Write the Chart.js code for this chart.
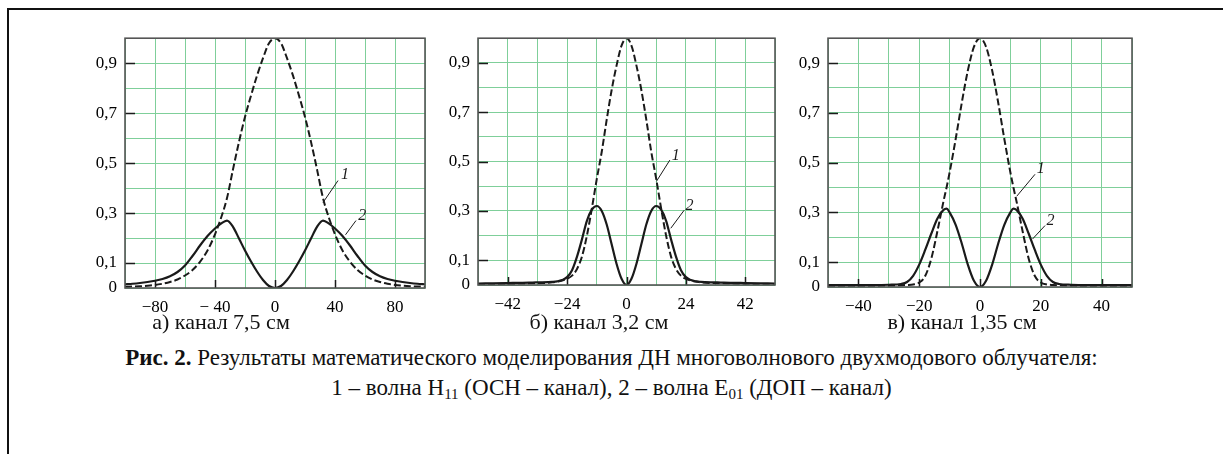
<!DOCTYPE html>
<html>
<head>
<meta charset="utf-8">
<script src="https://cdn.jsdelivr.net/npm/chart.js@4.4.1/dist/chart.umd.min.js"></script>
<style>
  html, body { margin:0; padding:0; background:#fff; width:1223px; height:454px; overflow:hidden; }
  body { position:relative; font-family:"Liberation Serif","Times New Roman",serif; color:#111; }
  .frame { position:absolute; left:7px; top:8px; width:1400px; height:700px; border-top:2px solid #111; border-left:2px solid #111; }
  .panel { position:absolute; top:20px; }
  .sub { position:absolute; top:309px; font-size:22px; line-height:26px; white-space:nowrap; transform:translateX(-50%); }
  .cap { position:absolute; left:0; width:1223px; text-align:center; font-size:23px; line-height:26px; white-space:nowrap; }
  sub { font-size:15px; vertical-align:-4px; line-height:0; }
</style>
</head>
<body>
<div class="frame"></div>
<canvas id="c1" class="panel" style="left:60px" width="380" height="300"></canvas>
<canvas id="c2" class="panel" style="left:413px" width="380" height="300"></canvas>
<canvas id="c3" class="panel" style="left:763px" width="390" height="300"></canvas>

<div class="sub" style="left:221px">а) канал 7,5 см</div>
<div class="sub" style="left:599px">б) канал 3,2 см</div>
<div class="sub" style="left:962px">в) канал 1,35 см</div>
<div class="cap" style="top:345px"><b>Рис. 2.</b> Результаты математического моделирования ДН многоволнового двухмодового облучателя:</div>
<div class="cap" style="top:375px">1 – волна H<sub>11</sub> (ОСН – канал), 2 – волна E<sub>01</sub> (ДОП – канал)</div>

<script>
// ---- data (angle, normalized amplitude) ----
// a) канал 7,5 см
const angleA = [-100,-95,-90,-85,-80,-75,-70,-65,-60,-55,-50,-45,-40,-36,-32,-28,-24,-20,-16,-12,-8,-4,0,
                4,8,12,16,20,24,28,32,36,40,45,50,55,60,65,70,75,80,85,90,95,100];
const h11A = [0.005,0.006,0.007,0.009,0.012,0.017,0.024,0.034,0.05,0.072,0.105,0.15,0.215,0.28,0.36,0.475,0.585,0.685,0.77,0.85,0.92,0.98,1.0,
              0.98,0.92,0.85,0.77,0.685,0.585,0.475,0.36,0.28,0.215,0.15,0.105,0.072,0.05,0.034,0.024,0.017,0.012,0.009,0.007,0.006,0.005];
const e01A = [0.015,0.017,0.02,0.024,0.029,0.036,0.047,0.064,0.09,0.128,0.17,0.208,0.238,0.258,0.27,0.245,0.198,0.15,0.106,0.066,0.032,0.008,0,
              0.008,0.032,0.066,0.106,0.15,0.198,0.245,0.27,0.258,0.238,0.208,0.17,0.128,0.09,0.064,0.047,0.036,0.029,0.024,0.02,0.017,0.015];

// б) канал 3,2 см
const angleB = [-60,-54,-48,-42,-38,-34,-30,-28,-26,-24,-22,-20,-18,-16,-14,-12,-10,-8,-6,-4,-2,0,
                2,4,6,8,10,12,14,16,18,20,22,24,26,28,30,34,38,42,48,54,60];
const h11B = [0.004,0.004,0.005,0.006,0.007,0.008,0.011,0.014,0.018,0.025,0.038,0.065,0.115,0.2,0.31,0.43,0.54,0.67,0.79,0.89,0.97,1.0,
              0.97,0.89,0.79,0.67,0.54,0.43,0.31,0.2,0.115,0.065,0.038,0.025,0.018,0.014,0.011,0.008,0.007,0.006,0.005,0.004,0.004];
const e01B = [0.006,0.007,0.008,0.009,0.01,0.011,0.013,0.015,0.02,0.032,0.06,0.115,0.185,0.26,0.305,0.32,0.3,0.245,0.165,0.085,0.025,0,
              0.025,0.085,0.165,0.245,0.3,0.32,0.305,0.26,0.185,0.115,0.06,0.032,0.02,0.015,0.013,0.011,0.01,0.009,0.008,0.007,0.006];

// в) канал 1,35 см
const angleC = [-50,-45,-40,-35,-30,-26,-24,-22,-20,-18,-16,-14,-12,-11,-10,-8,-6,-4,-2,0,
                2,4,6,8,10,11,12,14,16,18,20,22,24,26,30,35,40,45,50];
const h11C = [0.005,0.005,0.005,0.005,0.006,0.007,0.008,0.01,0.018,0.045,0.115,0.225,0.345,0.4,0.46,0.595,0.74,0.87,0.965,1.0,
              0.965,0.87,0.74,0.595,0.46,0.4,0.345,0.225,0.115,0.045,0.018,0.01,0.008,0.007,0.006,0.005,0.005,0.005,0.005];
const e01C = [0.008,0.008,0.008,0.008,0.009,0.012,0.02,0.045,0.09,0.15,0.215,0.275,0.31,0.315,0.3,0.25,0.175,0.09,0.025,0,
              0.025,0.09,0.175,0.25,0.3,0.315,0.31,0.275,0.215,0.15,0.09,0.045,0.02,0.012,0.009,0.008,0.008,0.008,0.008];

// tick labels (panel б carries the printed labels of the original)
const xTicksA = [-80,-40,0,40,80],  xTextA = ['−80','− 40','0','40','80'];
const xTicksB = [-48,-24,0,24,48],  xTextB = ['−42','−24','0','24','42'];
const xTicksC = [-40,-20,0,20,40],  xTextC = ['−40','−20','0','20','40'];
const yTicks = [0.1,0.3,0.5,0.7,0.9];

const GRID = '#7fcf9a';
const INK = '#1a1a1a';
const TICK_FONT = {family: '"Liberation Serif", serif', size: 17};

const marks = {
  id: 'marks',
  afterDatasetsDraw(chart, args, o) {
    const {ctx, chartArea: a, scales: {x, y}} = chart;
    ctx.save();
    ctx.strokeStyle = INK; ctx.lineWidth = 1.5;
    ctx.beginPath();
    yTicks.forEach(v => { const py = Math.round(y.getPixelForValue(v)) + 0.5; ctx.moveTo(a.left, py); ctx.lineTo(a.left + 10, py); });
    o.xTicks.forEach(v => { const px = Math.round(x.getPixelForValue(v)) + 0.5; ctx.moveTo(px, a.bottom); ctx.lineTo(px, a.bottom - 8); });
    ctx.stroke();
    ctx.strokeStyle = '#555'; ctx.lineWidth = 1.6;
    ctx.strokeRect(a.left, a.top, a.right - a.left, a.bottom - a.top);
    // curve numbers with leader lines
    ctx.lineWidth = 1; ctx.strokeStyle = INK; ctx.fillStyle = INK;
    ctx.font = 'italic 16px "Liberation Serif", serif';
    ctx.textAlign = 'left'; ctx.textBaseline = 'middle';
    o.notes.forEach(n => {
      ctx.beginPath();
      ctx.moveTo(x.getPixelForValue(n.from[0]), y.getPixelForValue(n.from[1]));
      ctx.lineTo(x.getPixelForValue(n.to[0]), y.getPixelForValue(n.to[1]));
      ctx.stroke();
      ctx.fillText(n.text, x.getPixelForValue(n.at[0]), y.getPixelForValue(n.at[1]));
    });
    ctx.restore();
  }
};

function makePanel(id, xs, h11, e01, lim, step, xTicks, xText, box, notes) {
  const pts = arr => arr.map((v, i) => ({x: xs[i], y: v}));
  new Chart(document.getElementById(id), {
    type: 'line',
    data: {
      datasets: [
        {label: '1', data: pts(h11), borderColor: INK, borderWidth: 2, borderDash: [7, 3], pointRadius: 0, cubicInterpolationMode: 'monotone'},
        {label: '2', data: pts(e01), borderColor: INK, borderWidth: 2.2, pointRadius: 0, cubicInterpolationMode: 'monotone'}
      ]
    },
    options: {
      responsive: false, animation: false, devicePixelRatio: 1,
      layout: {padding: {top: box.top, right: box.right, left: 0, bottom: 0}},
      plugins: {legend: {display: false}, tooltip: {enabled: false}, marks: {xTicks, notes}},
      scales: {
        x: {
          type: 'linear', min: -lim, max: lim,
          ticks: {stepSize: step, autoSkip: false, maxRotation: 0, padding: 9, color: '#000', font: TICK_FONT,
                  callback: v => { const k = xTicks.indexOf(v); return k < 0 ? '' : xText[k]; }},
          grid: {color: GRID, lineWidth: 1, drawTicks: false},
          border: {display: false},
          afterFit: s => { s.height = box.xh; }
        },
        y: {
          min: 0, max: 1,
          ticks: {stepSize: 0.1, autoSkip: false, padding: 8, color: '#000', font: TICK_FONT,
                  callback: v => { const k = Math.round(v * 10); return k === 0 ? '0' : (k % 2 ? '0,' + k : ''); }},
          grid: {color: GRID, lineWidth: 1, drawTicks: false},
          border: {display: false},
          afterFit: s => { s.width = 65; }
        }
      }
    },
    plugins: [marks]
  });
}

makePanel('c1', angleA, h11A, e01A, 100, 20, xTicksA, xTextA, {top: 10, right: 15, xh: 32},
  [{text: '1', from: [32, 0.342], to: [42, 0.43], at: [44, 0.455]},
   {text: '2', from: [47, 0.213], to: [54, 0.27], at: [55.5, 0.29]}]);
makePanel('c2', angleB, h11B, e01B, 60, 12, xTicksB, xTextB, {top: 12, right: 18, xh: 35},
  [{text: '1', from: [12.1, 0.42], to: [17.5, 0.506], at: [18.3, 0.525]},
   {text: '2', from: [17.9, 0.23], to: [23.3, 0.303], at: [23.8, 0.322]}]);
makePanel('c3', angleC, h11C, e01C, 50, 10, xTicksC, xTextC, {top: 9, right: 21, xh: 33},
  [{text: '1', from: [12.1, 0.365], to: [18.1, 0.453], at: [18.7, 0.475]},
   {text: '2', from: [17.3, 0.193], to: [21.4, 0.247], at: [21.9, 0.265]}]);
</script>
</body>
</html>
